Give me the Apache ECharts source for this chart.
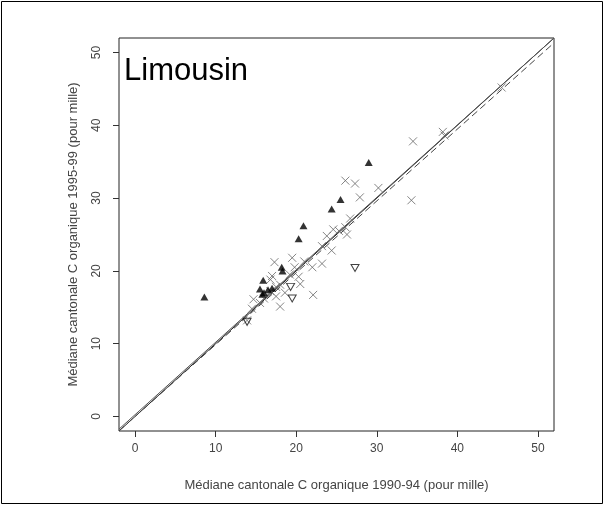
<!DOCTYPE html>
<html><head><meta charset="utf-8">
<script src="https://cdn.jsdelivr.net/npm/echarts@6/dist/echarts.min.js"></script>
<style>html,body{margin:0;padding:0;background:#fff;overflow:hidden}#c{width:605px;height:506px}</style>
</head><body><div id="c"></div>
<script>
// ---- data ----
const regionTitle = 'Limousin';
const xTitle = 'Médiane cantonale C organique 1990-94 (pour mille)';
const yTitle = 'Médiane cantonale C organique 1995-99 (pour mille)';
const tickValues = [0, 10, 20, 30, 40, 50];
const axisRange = [-2, 52];

const crossX = [34.5,38.4,38.2,45.5,26.1,27.3,30.2,27.9,34.3,26.7,26.1,24.6,26.3,23.8,23.2,24.4,23.2,22.0,22.1,19.5,20.3,17.3,17.0,18.0,18.0,14.7,14.5,18.6,16.8,16.8,19.8,15.5,16.0,17.5,13.9,21.0,25.3,19.2,20.5,17.5];
const crossY = [37.8,38.6,39.1,45.2,32.4,32.0,31.4,30.1,29.7,27.2,26.0,25.7,25.0,24.8,23.4,22.8,21.0,20.5,16.7,21.8,19.2,21.2,19.3,18.1,15.1,16.1,14.8,17.0,17.2,18.8,20.5,15.6,16.2,17.8,13.2,21.3,25.5,19.5,18.2,16.5];

const upX = [8.6,15.9,15.5,16.0,16.5,17.0,15.8,18.2,18.3,20.3,20.9,24.4,25.5,29.0];
const upY = [16.4,18.7,17.5,17.0,17.4,17.6,16.8,20.5,20.0,24.4,26.2,28.5,29.8,34.9];

const downX = [13.9,19.3,19.5,27.3];
const downY = [13.0,17.8,16.2,20.4];

// lines: [intercept, slope]
const identityLine = [0, 1];
const fitLineSolid = [0.25, 0.995];
const fitLineDashed = [0.0, 0.987];

// ---- build ----
const zip = (xs, ys) => xs.map((x, i) => [x, ys[i]]);
const lineData = (c) => axisRange.map(x => [x, c[0] + c[1] * x]);

const crossPath = 'path://M0,0L10,10M10,0L0,10';
const downPath = 'path://M0,0L10,0L5,9Z';
const font = 'Liberation Sans, Arial, sans-serif';

const chart = echarts.init(document.getElementById('c'), null, {renderer: 'canvas'});
chart.setOption({
  animation: false,
  backgroundColor: '#fff',
  title: {
    text: regionTitle, left: 124, top: 56, padding: 0,
    textStyle: {fontSize: 31, fontWeight: 'normal', color: '#000', fontFamily: font}
  },
  graphic: [{
    type: 'rect', shape: {x: 1.5, y: 1.5, width: 601, height: 502},
    style: {fill: 'none', stroke: '#000', lineWidth: 1}, silent: true, z: 100
  }],
  grid: {left: 119, right: 51, top: 38, bottom: 75, show: true, borderColor: '#222', borderWidth: 1, backgroundColor: 'transparent'},
  xAxis: {
    type: 'value', min: axisRange[0], max: axisRange[1],
    splitLine: {show: false},
    axisLine: {show: false, onZero: false},
    axisTick: {show: true, length: 6, customValues: tickValues, lineStyle: {color: '#333'}},
    axisLabel: {customValues: tickValues, margin: 12, fontSize: 12, color: '#444', fontFamily: font},
    name: xTitle, nameLocation: 'middle', nameGap: 48,
    nameTextStyle: {fontSize: 13, color: '#444', fontFamily: font}
  },
  yAxis: {
    type: 'value', min: axisRange[0], max: axisRange[1],
    splitLine: {show: false},
    axisLine: {show: false, onZero: false},
    axisTick: {show: true, length: 6, customValues: tickValues, lineStyle: {color: '#333'}},
    axisLabel: {customValues: tickValues, margin: 16, rotate: 90, fontSize: 12, color: '#444', fontFamily: font},
    name: yTitle, nameLocation: 'middle', nameGap: 39, nameRotate: 90,
    nameTextStyle: {fontSize: 13, color: '#444', fontFamily: font}
  },
  series: [
    {type: 'line', data: lineData(identityLine), symbol: 'none', lineStyle: {color: '#222', width: 1}, z: 1},
    {type: 'line', data: lineData(fitLineSolid), symbol: 'none', lineStyle: {color: '#555', width: 1}, z: 1},
    {type: 'line', data: lineData(fitLineDashed), symbol: 'none', lineStyle: {color: '#444', width: 1, type: [7, 4]}, z: 1},
    {type: 'scatter', data: zip(crossX, crossY), symbol: crossPath, symbolSize: 8,
      itemStyle: {color: 'none', borderColor: '#666', borderWidth: 1}, z: 2},
    {type: 'scatter', data: zip(upX, upY), symbol: 'triangle', symbolSize: [8, 7],
      itemStyle: {color: '#000'}, z: 3},
    {type: 'scatter', data: zip(downX, downY), symbol: downPath, symbolSize: [8, 7],
      itemStyle: {color: 'none', borderColor: '#111', borderWidth: 1}, z: 3}
  ]
});
</script></body></html>
